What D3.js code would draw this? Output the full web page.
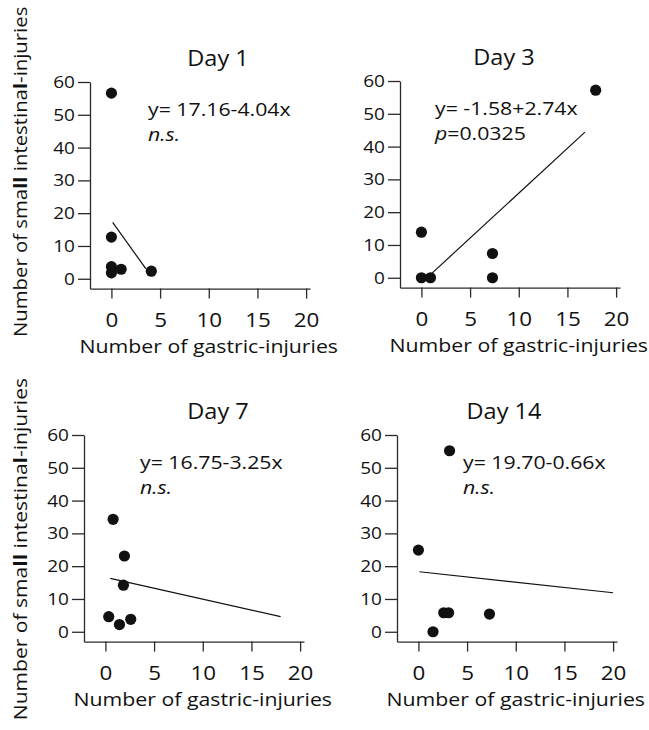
<!DOCTYPE html>
<html>
<head>
<meta charset="utf-8">
<script src="https://cdn.jsdelivr.net/npm/d3@7"></script>
<style>
  body { margin: 0; background: #fff; }
  svg { display: block; font-family: 'Open Sans', sans-serif; }
</style>
</head>
<body>
<svg width="649" height="730"></svg>
<script>
'use strict';

// values
const days = ['Day 1', 'Day 3', 'Day 7', 'Day 14'];
const gastric = [
  [0, 0, 0, 0, 1.0, 4.1],
  [0, 0, 0.93, 7.3, 7.3, 17.9],
  [0.34, 0.79, 1.95, 1.85, 1.44, 2.6],
  [0, 3.2, 2.6, 3.1, 1.5, 7.3]
];
const smallInt = [
  [56.6, 12.7, 3.7, 1.8, 2.9, 2.3],
  [13.9, 0, 0, 7.4, 0, 57.2],
  [4.6, 34.3, 23.1, 14.2, 2.2, 3.8],
  [24.9, 55.2, 5.8, 5.8, 0, 5.4]
];
// regression line ends as drawn
const fitX = [[0.13, 3.55], [0.96, 16.8], [0.5, 18], [0.1, 20]];
const fitY = [[17.2, 3.0], [1.05, 44.4], [16.3, 4.6], [18.3, 11.9]];
const fitLabels = ['y= 17.16-4.04x', 'y= -1.58+2.74x', 'y= 16.75-3.25x', 'y= 19.70-0.66x'];
const sigLabels = ['n.s.', 'p=0.0325', 'n.s.', 'n.s.'];
const xTicks = [0, 5, 10, 15, 20];
const yTicks = [0, 10, 20, 30, 40, 50, 60];
const xLabel = 'Number of gastric-injuries';

// layout
const svg = d3.select('svg');
const W = 220, H = 206.6;
const K = 1.12; // horizontal stretch of the original lettering
const panels = [
  {left: 90, top: 82, titleX: 218, annoDx: 58},
  {left: 400, top: 81, titleX: 504, annoDx: 35},
  {left: 84, top: 435, titleX: 218, annoDx: 56},
  {left: 397, top: 435, titleX: 504, annoDx: 66}
];
const ink = '#111';

const x_scale = d3.scaleLinear().domain([-2.2, 20.4]).range([0, W]);
const y_scale = d3.scaleLinear().domain([-3, 60]).range([H, 0]);

function stretched(g, x, y, k) {
  return g.append('text').attr('transform', `translate(${x},${y}) scale(${k},1)`);
}

panels.forEach((p, i) => {
  const g = svg.append('g').attr('transform', `translate(${p.left},${p.top})`);

  //title
  stretched(svg, p.titleX, p.top - 16, K)
    .attr('text-anchor', 'middle')
    .attr('font-size', 21)
    .attr('fill', ink)
    .text(days[i]);

  //axes
  const xa = g.append('g')
    .attr('transform', `translate(0,${H})`)
    .call(d3.axisBottom(x_scale).tickValues(xTicks).tickSize(10).tickSizeOuter(0).tickPadding(14));
  xa.attr('font-size', 20).attr('font-family', null);
  xa.selectAll('.tick text').attr('transform', `scale(${K},1)`);

  const ya = g.append('g')
    .call(d3.axisLeft(y_scale).tickValues(yTicks).tickSize(12).tickSizeOuter(0).tickPadding(3));
  ya.attr('font-size', 17).attr('font-family', null);
  ya.selectAll('.tick text').attr('x', -15 / K).attr('transform', `scale(${K},1)`);

  [xa, ya].forEach(a => {
    a.attr('color', '#2a2a2a');
    a.selectAll('path, line').attr('stroke-width', 1.3);
    a.selectAll('text').attr('fill', ink);
  });

  //x label
  stretched(g, x_scale(10), H + 64, K)
    .attr('text-anchor', 'middle')
    .attr('font-size', 19)
    .attr('fill', ink)
    .text(xLabel);

  //regression line
  g.append('line')
    .attr('x1', x_scale(fitX[i][0])).attr('y1', y_scale(fitY[i][0]))
    .attr('x2', x_scale(fitX[i][1])).attr('y2', y_scale(fitY[i][1]))
    .attr('stroke', ink)
    .attr('stroke-width', 1.2);

  //points
  g.selectAll('circle').data(gastric[i].map((v, j) => [v, smallInt[i][j]]))
    .enter().append('circle')
    .attr('cx', d => x_scale(d[0]))
    .attr('cy', d => y_scale(d[1]))
    .attr('r', 5.6)
    .attr('fill', ink);

  //equation + significance
  stretched(g, p.annoDx, 34, K)
    .attr('font-size', 19)
    .attr('fill', ink)
    .text(fitLabels[i]);
  const sig = stretched(g, p.annoDx, 59, K)
    .attr('font-size', 19)
    .attr('fill', ink);
  const s = sigLabels[i];
  if (s.startsWith('p=')) {
    sig.append('tspan').attr('font-style', 'italic').text('p');
    sig.append('tspan').text(s.slice(1));
  } else {
    sig.append('tspan').attr('font-style', 'italic').text(s);
  }
});

//shared y labels, one per row
const yLabelParts = [['Number of sma', false], ['ll', true], [' intestina', false], ['l', true], ['-injuries', false]];
[{y: 337, anchor: 'start', k: 1.13}, {y: 378, anchor: 'end', k: 1.17}].forEach(r => {
  const t = svg.append('text')
    .attr('transform', `translate(27,${r.y}) rotate(-90) scale(${r.k},1)`)
    .attr('text-anchor', r.anchor)
    .attr('font-size', 18)
    .attr('fill', ink);
  yLabelParts.forEach(([txt, bold]) => {
    t.append('tspan').attr('font-weight', bold ? 700 : null).text(txt);
  });
});
</script>
</body>
</html>
